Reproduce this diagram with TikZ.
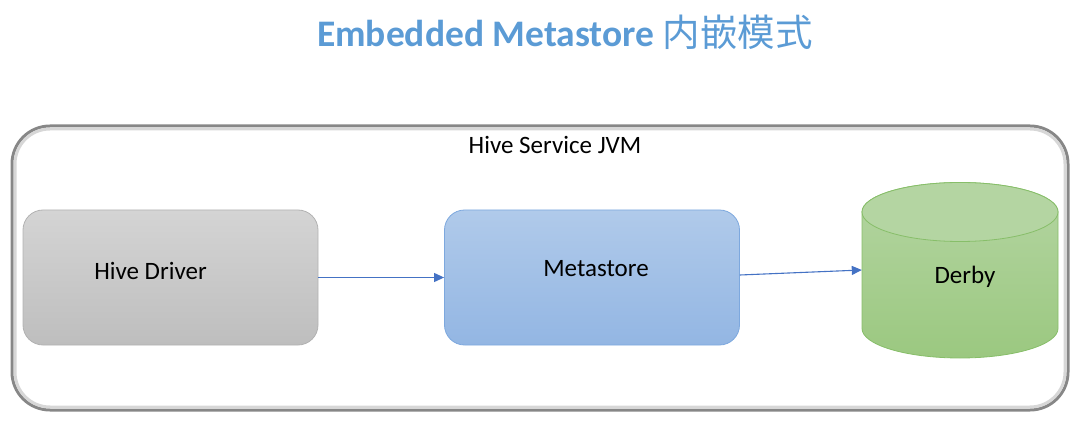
\documentclass[tikz,border=0pt]{standalone}
\usepackage{fontspec}
\setmainfont{Carlito}
\newfontfamily\cjk{Noto Sans CJK SC}
\usetikzlibrary{arrows.meta}
\definecolor{titleblue}{RGB}{91,155,213}
\definecolor{arrowblue}{RGB}{68,114,196}
\definecolor{hdtop}{RGB}{212,212,212}
\definecolor{hdbot}{RGB}{190,190,190}
\definecolor{hdline}{RGB}{178,178,178}
\definecolor{mstop}{RGB}{176,202,234}
\definecolor{msbot}{RGB}{147,182,227}
\definecolor{msline}{RGB}{125,168,222}
\definecolor{dbtop}{RGB}{180,213,162}
\definecolor{dbbot}{RGB}{155,200,128}
\definecolor{dbline}{RGB}{135,190,105}
\definecolor{frameout}{RGB}{135,135,135}
\definecolor{framein}{RGB}{215,215,215}
\tikzset{
  x=1pt,y=1pt,
  boxtext/.style={font=\fontsize{25}{30}\selectfont, text=black},
  procbox/.style={rounded corners=20pt, minimum width=295pt, minimum height=135pt, inner sep=0pt, line width=0.8pt},
  flow/.style={draw=arrowblue, line width=1.1pt, -{Triangle[length=10pt,width=9pt]}},
}
\begin{document}
\begin{tikzpicture}
\useasboundingbox (0,0) rectangle (1078,423);
% title
\node[text=titleblue, font=\fontsize{37.5}{42}\selectfont] (title) at (565,391)
  {\bfseries Embedded Metastore {\cjk\mdseries 内嵌模式}};
% outer JVM frame
\draw[frameout, line width=3pt, rounded corners=38pt] (12,13) rectangle (1068,297);
\draw[framein, line width=3pt, rounded corners=35pt] (15,16) rectangle (1065,294);
\node[boxtext] (jvm) at (555,278) {Hive Service JVM};
% Hive Driver
\node[procbox, draw=hdline, top color=hdtop, bottom color=hdbot,
  label={[boxtext, xshift=-20pt, yshift=7pt]center:Hive Driver}] (hd) at (170.5,145.5) {};
% Metastore
\node[procbox, draw=msline, top color=mstop, bottom color=msbot,
  label={[boxtext, xshift=4pt, yshift=9pt]center:Metastore}] (ms) at (592,145.5) {};
% Derby cylinder
\path[draw=dbline, line width=0.8pt, top color=dbtop, bottom color=dbbot]
  (862,211) -- (862,94.5) arc[start angle=180, end angle=360, x radius=98, y radius=29.5]
  -- (1058,211) arc[start angle=0, end angle=180, x radius=98, y radius=29.5] -- cycle;
\draw[draw=dbline, line width=0.8pt, fill=dbtop] (960,211) ellipse[x radius=98, y radius=29.5];
\node[minimum width=196pt, minimum height=175pt, inner sep=0pt,
  label={[boxtext, xshift=5pt, yshift=-6.5pt]center:Derby}] (derby) at (960,152.5) {};
% connectors
\draw[flow] (hd.east) -- (ms.west);
\draw[flow] ([yshift=2.5pt]ms.east) -- ([yshift=0.5pt]derby.west);
\end{tikzpicture}
\end{document}
